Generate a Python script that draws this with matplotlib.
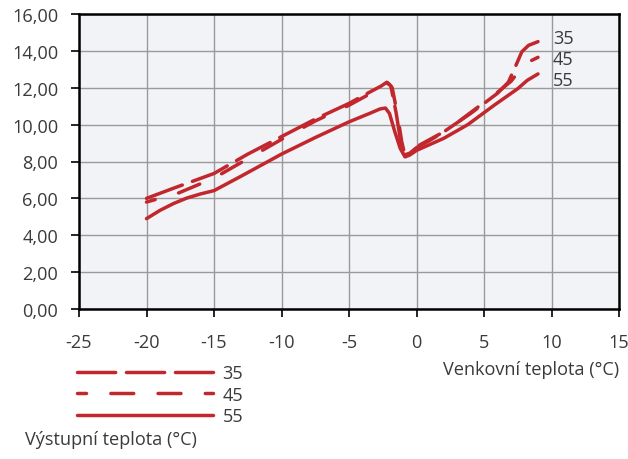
import matplotlib
matplotlib.use("Agg")
from matplotlib import pyplot as plt

# outdoor temperature (°C) and output per supply temperature
x35 = [-20, -18, -15, -12.5, -10, -7.5, -5, -3.5, -2.6, -2.2, -1.9, -1.5, -1.2, -0.9, -0.5, 0,
       1, 2, 3, 4, 5, 6, 6.8, 7.3, 7.8, 8.3, 9]
y35 = [6.0, 6.55, 7.35, 8.4, 9.35, 10.3, 11.15, 11.75, 12.1, 12.3, 12.1, 10.6, 9.2, 8.35, 8.45, 8.75,
       9.15, 9.6, 10.1, 10.6, 11.15, 11.7, 12.3, 13.1, 13.95, 14.3, 14.5]

x45 = [-20, -17.6, -15, -12.5, -10, -7.5, -5, -3.5, -2.6, -2.1, -1.8, -1.4, -1.1, -0.85, -0.5, 0,
       1, 2, 3, 4, 5, 6, 7, 7.7, 8.3, 9]
y45 = [5.8, 6.3, 7.1, 8.15, 9.2, 10.2, 11.05, 11.65, 12.0, 12.25, 12.0, 10.5, 9.1, 8.3, 8.45, 8.8,
       9.2, 9.6, 10.1, 10.65, 11.2, 11.75, 12.35, 13.0, 13.4, 13.65]

x55 = [-20, -19, -18, -17, -16, -15, -13, -10, -7.5, -5, -3.5, -2.7, -2.3, -2.0, -1.6, -1.2, -0.85,
       -0.5, 0, 2, 3.8, 5.75, 7.5, 8.2, 9]
y55 = [4.9, 5.35, 5.72, 6.02, 6.24, 6.42, 7.2, 8.4, 9.3, 10.15, 10.6, 10.85, 10.9, 10.6, 9.6, 8.7, 8.25,
       8.35, 8.6, 9.25, 10.0, 11.05, 11.95, 12.4, 12.75]

series_labels = ["35", "45", "55"]
x_ticks = [-25, -20, -15, -10, -5, 0, 5, 10, 15]
y_ticks = [0, 2, 4, 6, 8, 10, 12, 14, 16]

RED = "#c1272d"
TXT = "#3a3a3a"
plt.rcParams["font.family"] = ["Open Sans", "DejaVu Sans"]
plt.rcParams["font.size"] = 13.1

fig = plt.figure(figsize=(6.28, 4.6), dpi=100)
ax = fig.add_axes([79 / 628, 1 - 310 / 460, 540 / 628, 295 / 460])
ax.set_facecolor("#f1f3f6")

lw = 2.5
l35, = ax.plot(x35, y35, color=RED, lw=lw, linestyle=(0, (11, 3.1)), dash_capstyle="round",
               solid_capstyle="round", label=series_labels[0])
l45, = ax.plot(x45, y45, color=RED, lw=lw, linestyle=(4, (6.6, 7)), dash_capstyle="round",
               solid_capstyle="round", label=series_labels[1])
l55, = ax.plot(x55, y55, color=RED, lw=lw, solid_capstyle="round", label=series_labels[2])

# labels at line ends
offsets = [2.7, -1.2, -4.3]
for xs, ys, lab, dy in zip([x35, x45, x55], [y35, y45, y55], series_labels, offsets):
    ax.annotate(lab, xy=(xs[-1], ys[-1]), xytext=(10.8, dy), textcoords="offset points",
                va="center", ha="left", color=TXT, annotation_clip=False)

ax.set_xlim(-25, 15)
ax.set_ylim(0, 16)
ax.set_xticks(x_ticks)
ax.set_xticklabels([str(v) for v in x_ticks])
ax.set_yticks(y_ticks)
ax.set_yticklabels([f"{v:.2f}".replace(".", ",") for v in y_ticks])
ax.grid(True, color="#9a9a9a", lw=1.0)
ax.set_axisbelow(True)
for s in ax.spines.values():
    s.set_color("black")
    s.set_linewidth(1.8)
ax.tick_params(axis="both", direction="out", length=6, width=1.2, color="black", labelcolor=TXT)
ax.tick_params(axis="y", pad=9)
ax.tick_params(axis="x", pad=11)

ax.set_xlabel("Venkovní teplota (°C)", loc="right", color=TXT, labelpad=6.5)

leg = fig.legend(handles=[l35, l45, l55], loc="upper left", bbox_to_anchor=(77 / 628, 1 - 365 / 460),
                 frameon=False, handlelength=7.5, handletextpad=0.5, labelspacing=0.2,
                 borderpad=0, borderaxespad=0)
for t in leg.get_texts():
    t.set_color(TXT)
fig.text(25 / 628, 1 - 440 / 460, "Výstupní teplota (°C)", ha="left", va="center", color=TXT)

fig.savefig("out.png", dpi=100)
